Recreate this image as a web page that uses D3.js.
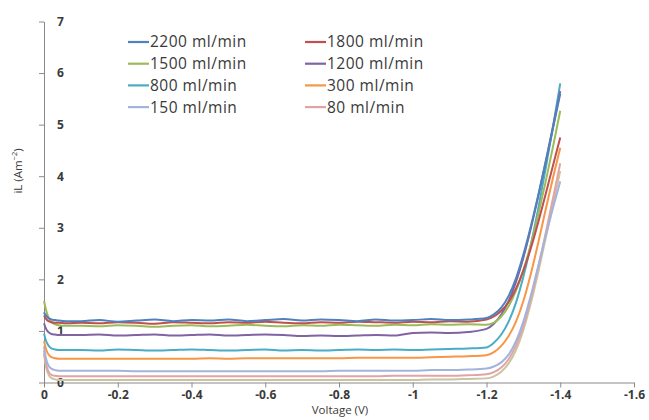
<!DOCTYPE html>
<html>
<head>
<meta charset="utf-8">
<script src="https://cdn.jsdelivr.net/npm/d3@7"></script>
<style>
  html, body { margin: 0; padding: 0; background: #fff; }
  svg { display: block; }
</style>
</head>
<body>
<svg id="chart" width="649" height="420"></svg>
<script>
// ---------------- DATA ----------------
const voltages = [0,-0.005,-0.01,-0.015,-0.02,-0.03,-0.04,-0.06,
  -0.1,-0.15,-0.2,-0.25,-0.3,-0.35,-0.4,-0.45,-0.5,-0.55,-0.6,-0.65,-0.7,-0.75,-0.8,-0.85,-0.9,-0.95,-1.0,-1.05,-1.1,-1.15,
  -1.2,-1.22,-1.24,-1.26,-1.28,-1.3,-1.32,-1.34,-1.36,-1.38,-1.4];

const seriesNames = ["2200 ml/min","1800 ml/min","1500 ml/min","1200 ml/min","800 ml/min","300 ml/min","150 ml/min","80 ml/min"];

const s2200 = [1.36,1.30,1.26,1.24,1.22,1.21,1.20,1.19,
  1.19,1.21,1.18,1.20,1.22,1.19,1.21,1.20,1.22,1.19,1.21,1.23,1.20,1.22,1.21,1.19,1.22,1.20,1.21,1.23,1.21,1.22,
  1.25,1.32,1.45,1.68,2.02,2.48,3.02,3.62,4.25,4.92,5.60];
const s1800 = [1.30,1.24,1.20,1.18,1.17,1.16,1.16,1.15,
  1.16,1.15,1.17,1.16,1.14,1.17,1.16,1.15,1.17,1.16,1.18,1.16,1.15,1.17,1.16,1.18,1.17,1.16,1.18,1.17,1.19,1.18,
  1.22,1.28,1.39,1.56,1.82,2.17,2.60,3.10,3.64,4.20,4.75];
const s1500 = [1.58,1.42,1.30,1.22,1.17,1.13,1.11,1.10,
  1.10,1.09,1.11,1.10,1.08,1.10,1.11,1.09,1.10,1.12,1.10,1.09,1.11,1.10,1.12,1.11,1.10,1.12,1.11,1.13,1.12,1.13,
  1.12,1.16,1.28,1.48,1.78,2.18,2.67,3.25,3.88,4.56,5.27];
const s1200 = [1.15,1.05,0.99,0.96,0.94,0.93,0.92,0.92,
  0.92,0.93,0.91,0.92,0.93,0.91,0.92,0.93,0.91,0.92,0.93,0.92,0.90,0.91,0.90,0.91,0.92,0.91,0.96,0.97,0.96,0.98,
  1.04,1.14,1.32,1.58,1.95,2.42,2.98,3.60,4.27,4.95,5.65];
const s800 = [0.95,0.82,0.74,0.69,0.66,0.64,0.63,0.63,
  0.63,0.62,0.64,0.63,0.62,0.63,0.64,0.63,0.62,0.63,0.64,0.62,0.63,0.62,0.63,0.64,0.63,0.64,0.63,0.64,0.65,0.66,
  0.68,0.77,0.93,1.18,1.55,2.05,2.66,3.36,4.13,4.95,5.80];
const s300 = [0.80,0.66,0.57,0.52,0.49,0.47,0.46,0.46,
  0.46,0.46,0.46,0.46,0.46,0.46,0.46,0.47,0.46,0.47,0.47,0.47,0.47,0.47,0.47,0.48,0.48,0.48,0.48,0.49,0.50,0.51,
  0.53,0.59,0.71,0.90,1.18,1.58,2.10,2.70,3.34,3.96,4.55];
const s150 = [0.70,0.48,0.36,0.30,0.27,0.24,0.23,0.23,
  0.23,0.23,0.23,0.22,0.22,0.22,0.22,0.22,0.22,0.22,0.22,0.22,0.22,0.22,0.23,0.23,0.23,0.23,0.23,0.24,0.24,0.25,
  0.27,0.31,0.39,0.54,0.80,1.18,1.68,2.25,2.83,3.38,3.90];
const s80 = [0.62,0.38,0.25,0.18,0.15,0.13,0.12,0.12,
  0.12,0.12,0.12,0.12,0.12,0.12,0.12,0.12,0.12,0.12,0.12,0.12,0.12,0.12,0.12,0.12,0.12,0.13,0.13,0.13,0.13,0.14,
  0.16,0.20,0.29,0.45,0.72,1.10,1.62,2.22,2.88,3.56,4.25];
// an additional unlabelled trace visible along the bottom of the plot
const sExtra = [0.55,0.32,0.19,0.12,0.09,0.06,0.05,0.05,
  0.05,0.05,0.05,0.05,0.05,0.05,0.05,0.05,0.05,0.05,0.05,0.05,0.05,0.05,0.05,0.05,0.05,0.05,0.05,0.06,0.06,0.07,
  0.08,0.12,0.21,0.37,0.63,1.02,1.53,2.13,2.78,3.44,4.10];

const xTickValues = [0,-0.2,-0.4,-0.6,-0.8,-1,-1.2,-1.4,-1.6];
const xTickLabels = ["0","-0.2","-0.4","-0.6","-0.8","-1","-1.2","-1.4","-1.6"];
const yTickValues = [0,1,2,3,4,5,6,7];
const yTickLabels = ["0","1","2","3","4","5","6","7"];

// ---------------- STYLE ----------------
const colors = ["#4F81BD","#C0504D","#9BBB59","#8064A2","#4BACC6","#F79646","#A3B4DB","#E3A3A6"];
const extraColor = "#CBC4A2";

const seriesValues = [s2200, s1800, s1500, s1200, s800, s300, s150, s80];

const svg = d3.select("#chart");
const x = d3.scaleLinear().domain([0, -1.6]).range([44, 634]);
const y = d3.scaleLinear().domain([0, 7]).range([382.5, 21.5]);

const tickFont = "'Open Sans', 'DejaVu Sans', sans-serif";
const axisColor = "#8a8a8a";
const textColor = "#3a3a3a";

// X axis
const xAxis = svg.append("g")
  .attr("transform", `translate(0,${y(0)})`)
  .call(d3.axisBottom(x).tickValues(xTickValues)
    .tickFormat((d, i) => xTickLabels[i]).tickSizeInner(5).tickSizeOuter(0));
xAxis.select(".domain").attr("stroke", axisColor);
xAxis.selectAll(".tick line").attr("stroke", axisColor);
xAxis.selectAll(".tick text")
  .attr("fill", textColor).attr("font-family", tickFont)
  .attr("font-size", 12).attr("font-weight", "bold").attr("y", 8);

// Y axis (labels sit to the right of the axis line)
const yAxis = svg.append("g")
  .attr("transform", `translate(${x(0)},0)`)
  .call(d3.axisLeft(y).tickValues(yTickValues)
    .tickFormat((d, i) => yTickLabels[i]).tickSizeInner(5).tickSizeOuter(0));
yAxis.select(".domain").attr("stroke", axisColor);
yAxis.selectAll(".tick line").attr("stroke", axisColor);
yAxis.selectAll(".tick text")
  .attr("fill", textColor).attr("font-family", tickFont)
  .attr("font-size", 12).attr("font-weight", "bold")
  .attr("text-anchor", "start").attr("x", 13);

// Lines
const line = d3.line()
  .x((d, i) => x(voltages[i]))
  .y(d => y(d))
  .curve(d3.curveMonotoneX);

const plot = svg.append("g");
plot.append("path").datum(sExtra)
  .attr("d", line).attr("fill", "none")
  .attr("stroke", extraColor).attr("stroke-width", 2);

// draw lower-numbered series last so that upper traces sit on top
const order = [7, 6, 5, 4, 3, 2, 1, 0];
order.forEach(k => {
  plot.append("path").datum(seriesValues[k])
    .attr("d", line).attr("fill", "none")
    .attr("stroke", colors[k]).attr("stroke-width", 2)
    .attr("stroke-linejoin", "round");
});

// Legend
const legend = svg.append("g");
seriesNames.forEach((name, i) => {
  const col = i % 2, row = Math.floor(i / 2);
  const lx = col === 0 ? 128 : 305;
  const ly = 42 + row * 21.7;
  legend.append("line")
    .attr("x1", lx).attr("x2", lx + 21).attr("y1", ly).attr("y2", ly)
    .attr("stroke", colors[i]).attr("stroke-width", 2.2);
  legend.append("text")
    .attr("x", lx + 22).attr("y", ly).attr("dy", "0.35em")
    .attr("font-family", tickFont).attr("font-size", 15.5)
    .attr("letter-spacing", 0.5)
    .attr("fill", textColor)
    .text(name);
});

// Axis titles
svg.append("text")
  .attr("x", (x(0) + x(-1.6)) / 2 + 1).attr("y", 414)
  .attr("text-anchor", "middle")
  .attr("font-family", tickFont).attr("font-size", 11.5)
  .attr("fill", textColor)
  .text("Voltage (V)");

const yt = svg.append("text")
  .attr("transform", "translate(22,171) rotate(-90)")
  .attr("text-anchor", "middle")
  .attr("font-family", tickFont).attr("font-size", 11.5)
  .attr("fill", textColor);
yt.append("tspan").text("iL (Am");
yt.append("tspan").attr("font-size", 7.5).attr("dy", -5).text("−2");
yt.append("tspan").attr("dy", 5).text(")");
</script>
</body>
</html>
